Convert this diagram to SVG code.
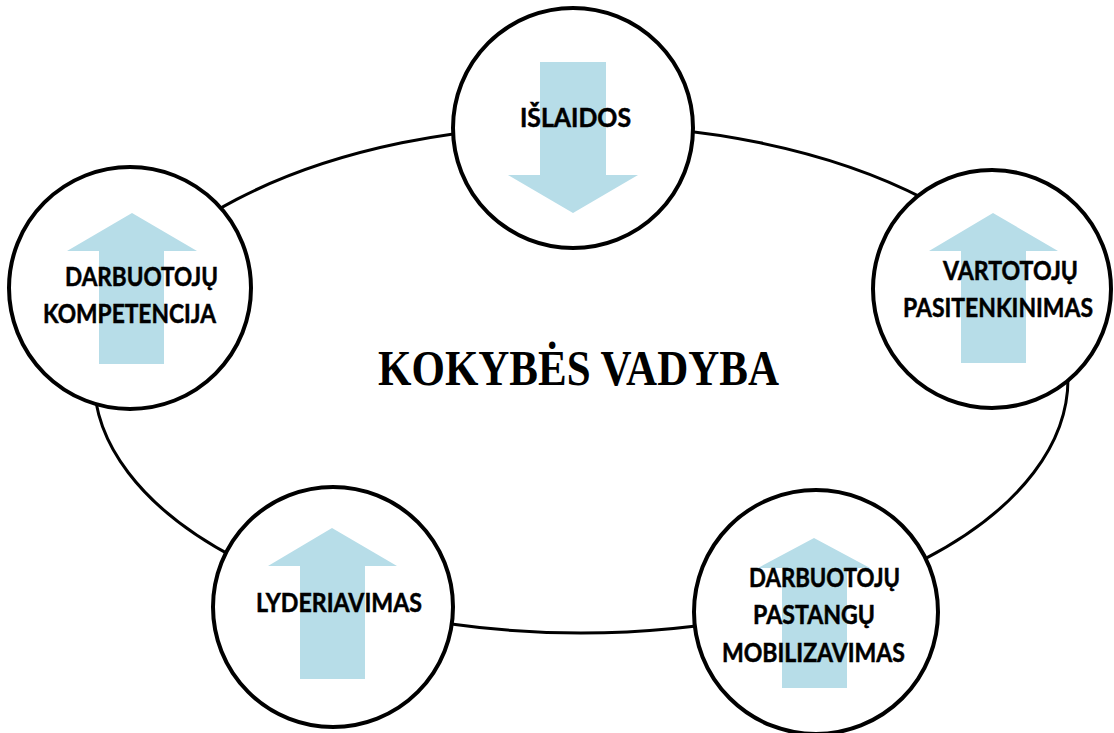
<svg xmlns="http://www.w3.org/2000/svg" width="1114" height="733" viewBox="0 0 1114 733">
  <style>
    .ring { fill: none; stroke: #000; stroke-width: 3; }
    .node { fill: #fff; stroke: #000; stroke-width: 4; }
    .arrow { fill: #B7DDE8; stroke: none; }
    .lbl { font-family: Lato, "Open Sans", "Liberation Sans", sans-serif; font-weight: bold; font-size: 26px; fill: #000; stroke: #000; stroke-width: 0.5; }
    .title { font-family: "Liberation Serif", "Times New Roman", serif; font-weight: bold; font-size: 51px; fill: #000; }
  </style>
  <rect width="1114" height="733" fill="#fff"/>
  <g id="connectors">
    <ellipse class="ring" cx="581" cy="379" rx="487" ry="254"/>
  </g>
  <g id="node-islaidos">
    <circle class="node" cx="573" cy="128" r="120"/>
    <polygon class="arrow" points="540,62 606,62 606,175 638,175 573,213 508,175 540,175"/>
    <text class="lbl" x="520" y="127" textLength="111" lengthAdjust="spacingAndGlyphs">IŠLAIDOS</text>
  </g>
  <g id="node-kompetencija">
    <circle class="node" cx="130" cy="288" r="121"/>
    <polygon class="arrow" points="99,364 99,251 67,251 132,213 197,251 164,251 164,364"/>
    <text class="lbl" x="65" y="286" textLength="153" lengthAdjust="spacingAndGlyphs">DARBUOTOJŲ</text>
    <text class="lbl" x="43" y="323" textLength="173" lengthAdjust="spacingAndGlyphs">KOMPETENCIJA</text>
  </g>
  <g id="node-vartotoju">
    <circle class="node" cx="992" cy="289" r="119"/>
    <polygon class="arrow" points="961,363 961,251 929,251 993,213 1058,251 1026,251 1026,363"/>
    <text class="lbl" x="943" y="280" textLength="135" lengthAdjust="spacingAndGlyphs">VARTOTOJŲ</text>
    <text class="lbl" x="903" y="317" textLength="190" lengthAdjust="spacingAndGlyphs">PASITENKINIMAS</text>
  </g>
  <g id="node-lyderiavimas">
    <circle class="node" cx="333" cy="607" r="120"/>
    <polygon class="arrow" points="300,679 300,566 268,566 332,528 397,566 365,566 365,679"/>
    <text class="lbl" x="256" y="612" textLength="166" lengthAdjust="spacingAndGlyphs">LYDERIAVIMAS</text>
  </g>
  <g id="node-mobilizavimas">
    <circle class="node" cx="816" cy="612" r="122"/>
    <polygon class="arrow" points="782,688 782,568 758,568 814,538 870,568 847,568 847,688"/>
    <text class="lbl" x="749" y="587" textLength="151" lengthAdjust="spacingAndGlyphs">DARBUOTOJŲ</text>
    <text class="lbl" x="753" y="624" textLength="122" lengthAdjust="spacingAndGlyphs">PASTANGŲ</text>
    <text class="lbl" x="722" y="662" textLength="183" lengthAdjust="spacingAndGlyphs">MOBILIZAVIMAS</text>
  </g>
  <g id="title">
    <text class="title" x="378" y="385" textLength="401" lengthAdjust="spacingAndGlyphs">KOKYBĖS VADYBA</text>
  </g>
</svg>
